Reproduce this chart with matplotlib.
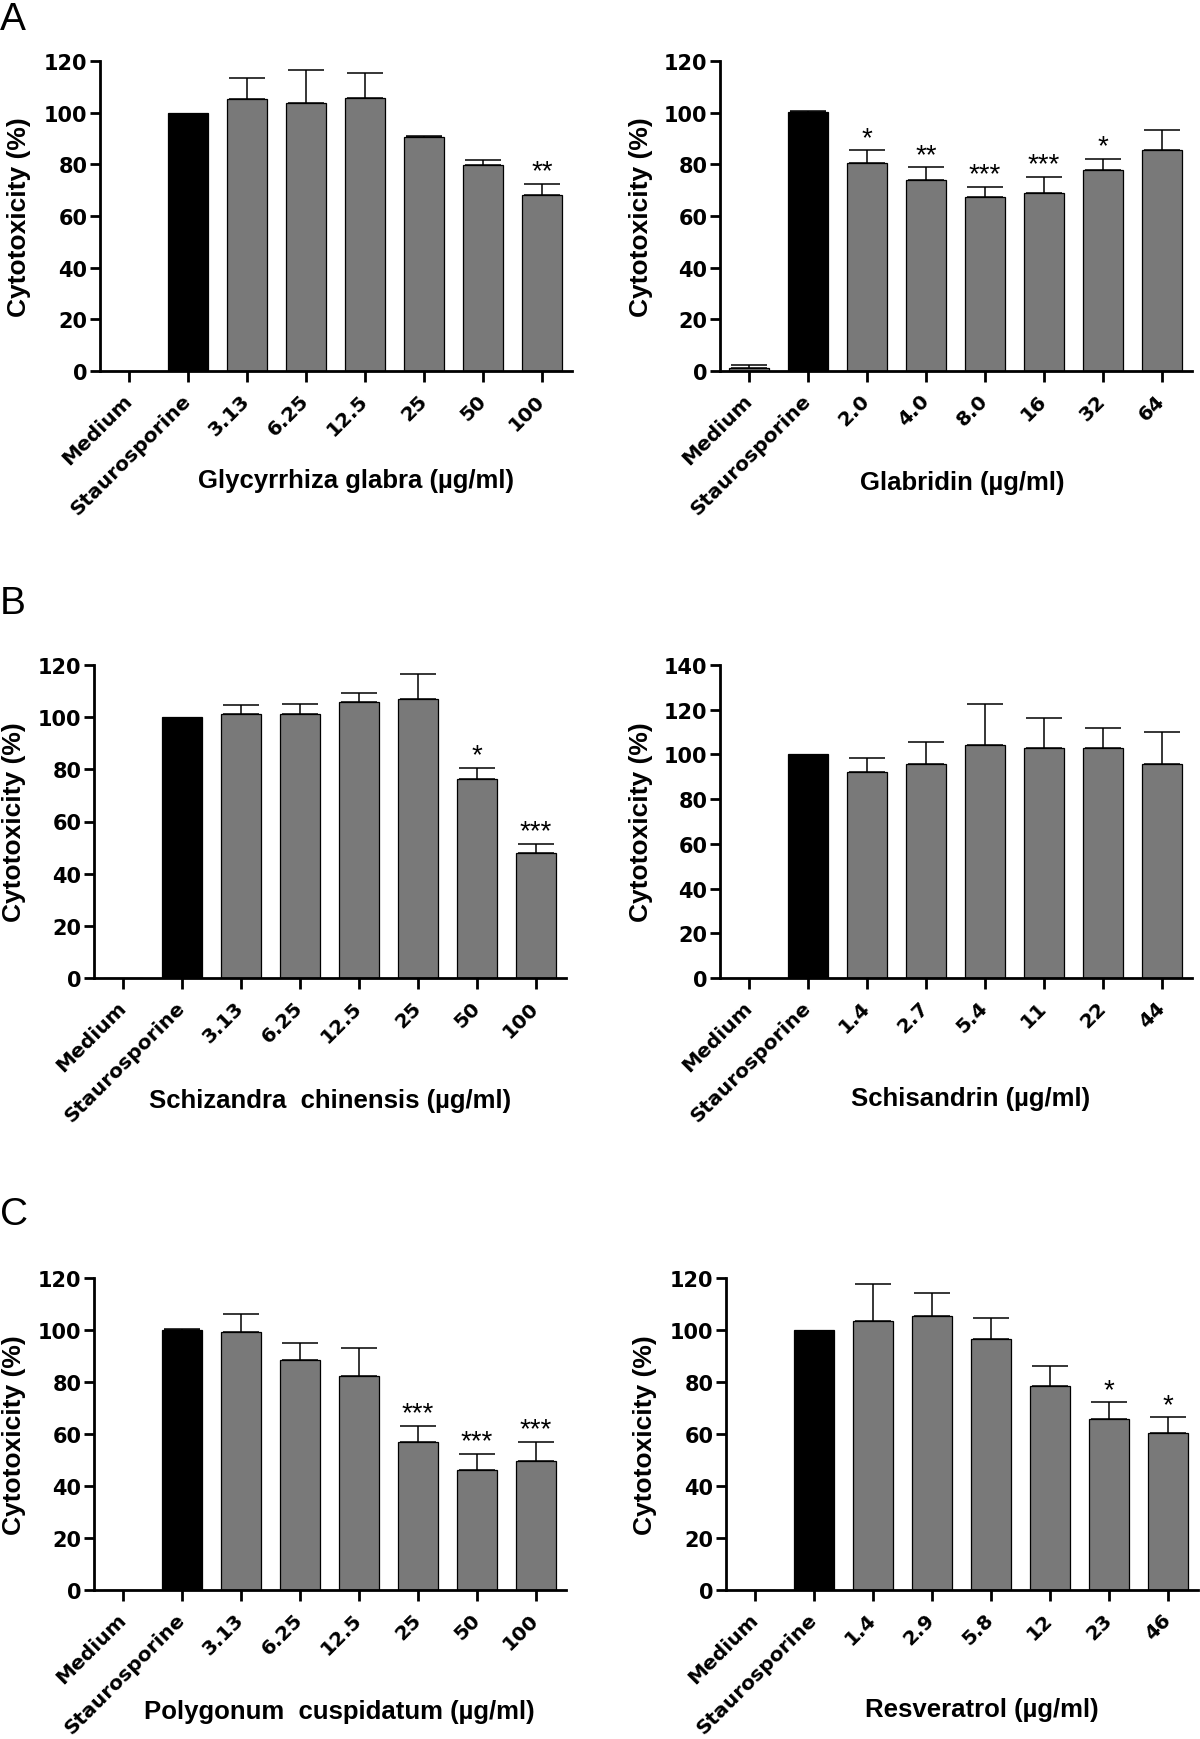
import matplotlib
matplotlib.use("Agg")
import matplotlib.pyplot as plt
import numpy as np

plt.rcParams['font.family'] = ['Liberation Sans', 'DejaVu Sans']

# ---------------- data ----------------
cats_A1 = ["Medium", "Staurosporine", "3.13", "6.25", "12.5", "25", "50", "100"]
vals_A1 = [0, 100, 105.3, 103.8, 105.6, 90.5, 79.7, 68.1]
err_A1 = [0, 0, 8.0, 12.6, 9.8, 0.5, 2.1, 4.2]
stars_A1 = ["", "", "", "", "", "", "", "**"]
xlabel_A1 = "Glycyrrhiza glabra (\u00b5g/ml)"

cats_A2 = ["Medium", "Staurosporine", "2.0", "4.0", "8.0", "16", "32", "64"]
vals_A2 = [1.3, 100.2, 80.6, 74.1, 67.3, 69.0, 77.7, 85.4]
err_A2 = [1.2, 0.4, 4.8, 4.7, 4.0, 6.0, 4.3, 7.8]
stars_A2 = ["", "", "*", "**", "***", "***", "*", ""]
xlabel_A2 = "Glabridin (\u00b5g/ml)"

cats_B1 = ["Medium", "Staurosporine", "3.13", "6.25", "12.5", "25", "50", "100"]
vals_B1 = [0, 100, 101.4, 101.2, 106.0, 106.8, 76.2, 47.9]
err_B1 = [0, 0, 3.4, 3.8, 3.2, 9.8, 4.3, 3.5]
stars_B1 = ["", "", "", "", "", "", "*", "***"]
xlabel_B1 = "Schizandra  chinensis (\u00b5g/ml)"

cats_B2 = ["Medium", "Staurosporine", "1.4", "2.7", "5.4", "11", "22", "44"]
vals_B2 = [0, 100, 92.3, 95.5, 104.0, 103.0, 103.0, 95.5]
err_B2 = [0, 0, 6.1, 9.9, 18.4, 13.5, 8.8, 14.4]
stars_B2 = ["", "", "", "", "", "", "", ""]
xlabel_B2 = "Schisandrin (\u00b5g/ml)"

cats_C1 = ["Medium", "Staurosporine", "3.13", "6.25", "12.5", "25", "50", "100"]
vals_C1 = [0, 100, 99.1, 88.4, 82.5, 57.0, 46.1, 49.5]
err_C1 = [0, 0.5, 7.2, 6.6, 10.6, 6.1, 6.2, 7.6]
stars_C1 = ["", "", "", "", "", "***", "***", "***"]
xlabel_C1 = "Polygonum  cuspidatum (\u00b5g/ml)"

cats_C2 = ["Medium", "Staurosporine", "1.4", "2.9", "5.8", "12", "23", "46"]
vals_C2 = [0, 100, 103.6, 105.2, 96.6, 78.6, 65.7, 60.3]
err_C2 = [0, 0, 14.0, 8.9, 8.0, 7.7, 6.5, 6.1]
stars_C2 = ["", "", "", "", "", "", "*", "*"]
xlabel_C2 = "Resveratrol (\u00b5g/ml)"

ymax_list = [120, 120, 120, 140, 120, 120]

# ---------------- layout (pixels of a 1200x1740 canvas) ----------------
W, H = 1200, 1740
fig = plt.figure(figsize=(12, 17.4), dpi=100)

def rect(x0, x1, y0, y1):
    return [x0 / W, 1 - y1 / H, (x1 - x0) / W, (y1 - y0) / H]

# axes box, x-label centre, y-label centre
panels = [
    (rect(100, 572, 62, 372), cats_A1, vals_A1, err_A1, stars_A1, xlabel_A1, (356, 481), (19, 217)),
    (rect(720, 1192, 62, 372), cats_A2, vals_A2, err_A2, stars_A2, xlabel_A2, (962, 483), (641, 217)),
    (rect(94, 566, 666, 979), cats_B1, vals_B1, err_B1, stars_B1, xlabel_B1, (330, 1101), (14, 822)),
    (rect(720, 1192, 666, 979), cats_B2, vals_B2, err_B2, stars_B2, xlabel_B2, (971, 1099), (641, 822)),
    (rect(94, 566, 1279, 1591), cats_C1, vals_C1, err_C1, stars_C1, xlabel_C1, (339, 1712), (14, 1435)),
    (rect(726, 1198, 1279, 1591), cats_C2, vals_C2, err_C2, stars_C2, xlabel_C2, (982, 1710), (645, 1435)),
]

GRAY = "#797979"
TICKFONT = ['DejaVu Sans']
for i, (r, cats, vals, errs, stars, xl, xlpos, ylpos) in enumerate(panels):
    ax = fig.add_axes(r)
    x = np.arange(len(cats))
    colors = [GRAY] * len(cats)
    colors[1] = "black"
    ax.bar(x, vals, width=0.67, color=colors, edgecolor="black", linewidth=0.9, zorder=2)
    errs_arr = np.array(errs, dtype=float)
    m = errs_arr > 0
    ax.errorbar(x[m], np.array(vals)[m], yerr=[np.zeros(m.sum()), errs_arr[m]],
                fmt="none", ecolor="black", elinewidth=1.1, capsize=13, capthick=1.1, zorder=1.5)
    for xi, v, e, s in zip(x, vals, errs, stars):
        if s:
            ax.annotate(s, xy=(xi, v + e), xytext=(0, 4.0), textcoords="offset points",
                        ha="center", va="baseline", fontsize=20)
    ymax = ymax_list[i]
    ax.set_ylim(0, ymax)
    ax.set_yticks(np.arange(0, ymax + 1, 20))
    ax.set_xlim(-0.49, len(cats) - 0.49)
    ax.set_xticks(x)
    ax.set_xticklabels(cats, rotation=45, ha="right", va="center", rotation_mode="anchor",
                       fontsize=14.5, fontweight="bold", family=TICKFONT)
    for lab in ax.get_yticklabels():
        lab.set_fontsize(15)
        lab.set_fontweight("bold")
        lab.set_family(TICKFONT)
    for sp in ["top", "right"]:
        ax.spines[sp].set_visible(False)
    for sp in ["left", "bottom"]:
        ax.spines[sp].set_linewidth(2.0)
    ax.tick_params(axis="y", length=7, width=2.0, pad=2)
    ax.tick_params(axis="x", length=8, width=2.0, pad=11)
    fig.text(ylpos[0] / W, 1 - ylpos[1] / H, "Cytotoxicity (%)", rotation=90,
             ha="center", va="center", fontsize=19, fontweight="bold")
    fig.text(xlpos[0] / W, 1 - xlpos[1] / H, xl, ha="center", va="center",
             fontsize=18.5, fontweight="bold")

fig.text(0.0, 1 - 2 / H, "A", ha="left", va="top", fontsize=28)
fig.text(0.0, 1 - 586 / H, "B", ha="left", va="top", fontsize=28)
fig.text(0.0, 1 - 1197 / H, "C", ha="left", va="top", fontsize=28)

fig.savefig("out.png", dpi=100)
